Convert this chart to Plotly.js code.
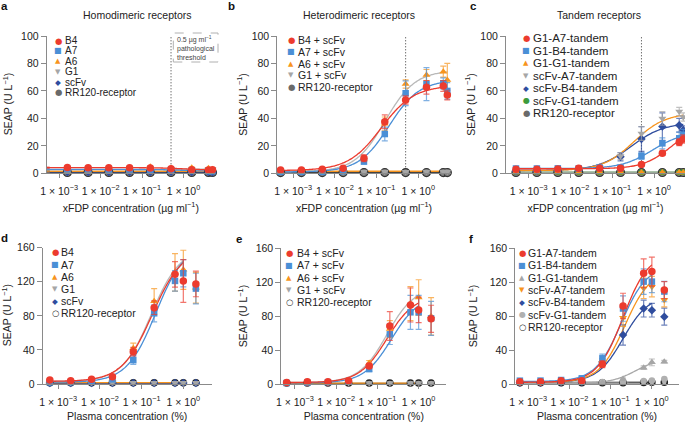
<!DOCTYPE html>
<html><head><meta charset="utf-8">
<script src="https://cdn.plot.ly/plotly-3.0.1.min.js"></script>
<style>html,body{margin:0;padding:0;background:#fff}#chart{width:685px;height:422px}</style>
</head><body><div id="chart"></div>
<script>
// ---------- shared x values ----------
const xfdpConc = [0.0005, 0.00158, 0.005, 0.0158, 0.05, 0.158, 0.5, 1.58, 4, 5];
const plasmaConc = [0.000632, 0.002, 0.00632, 0.02, 0.0632, 0.2, 0.632, 1, 2];
const thresholdConc = 0.5;
const xTickVals = [0.001, 0.01, 0.1, 1];
const xTickText = ['1 × 10<sup>−3</sup>', '1 × 10<sup>−2</sup>', '1 × 10<sup>−1</sup>', '1 × 10<sup>0</sup>'];
const yTicksTop = [0, 20, 40, 60, 80, 100];
const yTicksBottom = [0, 40, 80, 120, 160];

// ---------- panel a: homodimeric, xFDP ----------
const aNames = ['B4', 'A7', 'A6', 'G1', 'scFv', 'RR120-receptor'];
const aB4 = [4.2, 4.2, 4.1, 4.0, 4.0, 3.9, 3.4, 2.6, 2.4, 2.6];
const aA7 = [2.8, 2.8, 2.8, 2.7, 2.7, 2.6, 2.3, 1.8, 1.6, 1.5];
const aA6 = [1.5, 1.5, 1.5, 1.6, 1.8, 4.8, 3.8, 4.0, 3.7, 3.0];
const aG1 = [2.6, 2.6, 2.7, 2.7, 2.8, 3.0, 3.2, 3.0, 3.4, 3.2];
const aScFv = [1.0, 1.0, 1.0, 1.0, 1.0, 1.0, 1.1, 1.0, 1.0, 0.8];
const aRR120 = [0.6, 0.6, 0.6, 0.6, 0.6, 0.6, 0.6, 0.6, 0.6, 0.6];
const aErr = [0.4, 0.4, 0.4, 0.4, 0.4, 0.5, 0.5, 0.5, 0.5, 0.5];
const aFitB4 = [4.1, 2.4, 1.0, 1.5];
const aFitA7 = [2.8, 1.5, 1.0, 1.5];
const aFitA6 = [2.6, 3.2, 0.5, 1.0];
const aFitG1 = [1.5, 1.5, 1.0, 1.0];
const aFitScFv = [1.0, 1.0, 1.0, 1.0];
const aFitRR120 = [0.6, 0.6, 1.0, 1.0];

// ---------- panel b: heterodimeric, xFDP ----------
const bNames = ['B4 + scFv', 'A7 + scFv', 'A6 + scFv', 'G1 + scFv', 'RR120-receptor'];
const bB4 = [2.4, 2.4, 2.9, 3.6, 10.9, 37.6, 53.4, 62.6, 63.6, 57.0];
const bB4Err = [0.4, 0.4, 0.5, 1.0, 2.5, 5.0, 3.0, 5.0, 4.0, 3.5];
const bA7 = [1.0, 1.0, 1.0, 1.5, 8.5, 28.6, 58.3, 65.0, 65.5, 60.0];
const bA7Err = [0.3, 0.3, 0.3, 0.5, 1.5, 5.0, 9.0, 12.0, 4.0, 6.0];
const bA6 = [1.5, 1.5, 1.5, 2.0, 10.0, 36.0, 65.0, 71.6, 74.0, 68.0];
const bA6Err = [0.3, 0.3, 0.3, 0.5, 2.0, 5.0, 3.0, 4.0, 4.0, 12.0];
const bG1 = [1.2, 1.2, 1.2, 1.2, 1.3, 1.3, 1.2, 1.3, 1.4, 1.3];
const bRR120 = [0.5, 0.5, 0.5, 0.5, 0.5, 0.5, 0.5, 0.5, 0.5, 0.5];
const bSmallErr = [0.3, 0.3, 0.3, 0.3, 0.3, 0.3, 0.3, 0.3, 0.3, 0.3];
const bFitB4 = [2, 64, 0.13, 1.1];
const bFitA7 = [1, 68, 0.2, 1.2];
const bFitA6 = [1, 75, 0.16, 1.2];
const bFitG1 = [1.5, 1.5, 1, 1];
const bFitRR120 = [0.4, 0.4, 1, 1];

// ---------- panel c: tandem, xFDP ----------
const cNames = ['G1-A7-tandem', 'G1-B4-tandem', 'G1-G1-tandem', 'scFv-A7-tandem', 'scFv-B4-tandem', 'scFv-G1-tandem', 'RR120-receptor'];
const cG1A7 = [3.0, 3.0, 3.2, 3.6, 3.6, 3.6, 6.5, 14.6, 22.6, 25.0];
const cG1A7Err = [0.4, 0.4, 0.4, 0.5, 0.5, 0.8, 1.0, 1.5, 2.5, 3.0];
const cG1B4 = [3.5, 3.5, 3.6, 3.6, 4.2, 4.2, 12.6, 21.8, 25.5, 28.0];
const cG1B4Err = [0.4, 0.4, 0.4, 0.5, 0.5, 0.8, 2.5, 4.0, 4.5, 4.0];
const cG1G1 = [0.6, 0.6, 0.6, 0.6, 0.6, 0.6, 0.6, 0.6, 0.6, 0.6];
const cScFvA7 = [1.5, 1.5, 2.0, 2.5, 4.5, 12.6, 29.0, 40.0, 45.0, 41.0];
const cScFvA7Err = [0.3, 0.3, 0.4, 0.5, 1.0, 2.5, 5.0, 5.0, 3.0, 3.0];
const cScFvB4 = [1.5, 1.5, 2.0, 2.5, 4.0, 12.0, 25.0, 34.0, 35.0, 31.5];
const cScFvB4Err = [0.3, 0.3, 0.4, 0.5, 1.0, 3.0, 9.0, 10.0, 5.0, 3.0];
const cScFvG1 = [0.8, 0.8, 0.8, 0.8, 0.8, 0.8, 0.8, 0.8, 0.8, 0.8];
const cRR120 = [0.6, 0.6, 0.6, 0.6, 0.6, 0.6, 0.6, 0.6, 0.6, 0.6];
const cSmallErr = [0.2, 0.2, 0.2, 0.2, 0.2, 0.2, 0.2, 0.2, 0.2, 0.2];
const cFitG1A7 = [3.3, 35, 2.5, 1.3];
const cFitG1B4 = [3.5, 30, 0.9, 1.2];
const cFitG1G1 = [0.8, 0.8, 1, 1];
const cFitScFvA7 = [2, 44, 0.33, 1.16];
const cFitScFvB4 = [2, 37, 0.28, 1.1];
const cFitScFvG1 = [0.8, 0.8, 1, 1];
const cFitRR120 = [0.5, 0.5, 1, 1];

// ---------- panel d: homodimeric, plasma ----------
const dNames = ['B4', 'A7', 'A6', 'G1', 'scFv', 'RR120-receptor'];
const dB4 = [4.7, 3.9, 5.5, 8.6, 38.0, 89.6, 128.7, 120.9, 117.4];
const dB4Err = [1, 1, 1, 1.5, 5, 8, 15, 25, 15];
const dA7 = [2.0, 2.2, 3.0, 5.5, 28.0, 83.0, 121.0, 130.0, 112.0];
const dA7Err = [0.5, 0.5, 1, 2, 5, 10, 12, 16, 18];
const dA6 = [2.0, 2.5, 3.5, 6.0, 42.0, 97.0, 131.0, 134.0, 113.0];
const dA6Err = [0.5, 0.5, 1, 2, 6, 15, 22, 23, 18];
const dG1 = [1.5, 1.5, 1.5, 1.5, 1.5, 1.5, 1.5, 1.5, 1.5];
const dScFv = [1.2, 1.2, 1.2, 1.2, 1.2, 1.2, 1.2, 1.2, 1.2];
const dRR120 = [1.5, 1.5, 1.5, 1.5, 1.5, 1.5, 1.5, 1.5, 1.5];
const dSmallErr = [0.3, 0.3, 0.3, 0.3, 0.3, 0.3, 0.3, 0.3, 0.3];
const dFitB4 = [3, 160, 0.18, 1.2];
const dFitA7 = [2, 165, 0.22, 1.25];
const dFitA6 = [3, 160, 0.17, 1.25];
const dFitG1 = [1.5, 1.5, 1, 1];
const dFitScFv = [1.2, 1.2, 1, 1];
const dFitRR120 = [1.2, 1.2, 1, 1];

// ---------- panel e: heterodimeric, plasma ----------
const eNames = ['B4 + scFv', 'A7 + scFv', 'A6 + scFv', 'G1 + scFv', 'RR120-receptor'];
const eB4 = [2.0, 3.1, 3.1, 4.3, 21.6, 68.6, 93.3, 87.5, 77.0];
const eB4Err = [0.5, 0.5, 0.5, 1, 3, 17, 20, 15, 16];
const eA7 = [1.5, 2.0, 2.5, 3.0, 18.0, 58.8, 84.7, 84.7, 77.6];
const eA7Err = [0.5, 0.5, 0.5, 1, 3, 12, 20, 20, 20];
const eA6 = [1.5, 2.0, 2.5, 3.5, 25.0, 65.0, 95.0, 102.0, 80.0];
const eA6Err = [0.5, 0.5, 0.5, 1, 3, 10, 20, 21, 22];
const eG1 = [1.5, 1.5, 1.5, 1.5, 1.5, 1.5, 1.5, 1.5, 1.5];
const eRR120 = [1.5, 1.5, 1.5, 1.5, 1.5, 1.5, 1.5, 1.5, 1.5];
const eSmallErr = [0.3, 0.3, 0.3, 0.3, 0.3, 0.3, 0.3, 0.3, 0.3];
const eFitB4 = [2, 105, 0.17, 1.3];
const eFitA7 = [1.5, 105, 0.22, 1.3];
const eFitA6 = [2, 115, 0.17, 1.3];
const eFitG1 = [1.5, 1.5, 1, 1];
const eFitRR120 = [1.2, 1.2, 1, 1];

// ---------- panel f: tandem, plasma ----------
const fNames = ['G1-A7-tandem', 'G1-B4-tandem', 'G1-G1-tandem', 'scFv-A7-tandem', 'scFv-B4-tandem', 'scFv-G1-tandem', 'RR120-receptor'];
const fG1A7 = [2.8, 2.8, 3.9, 3.9, 23.2, 92.0, 130.5, 132.5, 110.8];
const fG1A7Err = [0.5, 0.5, 1, 1, 4, 15, 17, 17, 10];
const fG1B4 = [3.9, 4.0, 4.7, 6.7, 30.3, 89.0, 120.7, 120.7, 109.0];
const fG1B4Err = [0.5, 0.5, 1, 1, 5, 15, 15, 13, 12];
const fG1G1 = [1.0, 1.0, 1.0, 1.0, 1.5, 6.0, 19.3, 25.5, 26.3];
const fG1G1Err = [0.3, 0.3, 0.3, 0.3, 0.5, 1, 2, 4, 1.5];
const fScFvA7 = [1.5, 1.5, 2.0, 3.0, 25.0, 78.0, 112.8, 114.8, 99.0];
const fScFvA7Err = [0.5, 0.5, 0.5, 1, 4, 10, 12, 12, 8];
const fScFvB4 = [1.5, 1.5, 2.0, 2.5, 26.0, 57.8, 89.0, 87.0, 79.4];
const fScFvB4Err = [0.5, 0.5, 0.5, 1, 4, 12, 10, 8, 10];
const fScFvG1 = [2.5, 2.5, 2.5, 2.5, 2.5, 2.5, 3.5, 4.0, 5.9];
const fRR120 = [1.5, 1.5, 1.5, 1.5, 1.5, 1.5, 1.8, 2.0, 2.0];
const fSmallErr = [0.3, 0.3, 0.3, 0.3, 0.3, 0.3, 0.3, 0.3, 0.3];
const fFitG1A7 = [2, 155, 0.2, 1.4];
const fFitG1B4 = [3, 140, 0.18, 1.4];
const fFitG1G1 = [1, 30, 0.4, 1.5];
const fFitScFvA7 = [2, 135, 0.22, 1.4];
const fFitScFvB4 = [2, 105, 0.2, 1.4];
const fFitScFvG1 = [2.5, 5, 1.5, 1.5];
const fFitRR120 = [1.5, 1.5, 1, 1];

// ---------- styles ----------
const RED = '#ec3b2e', BLUE = '#4a8fd6', ORANGE = '#f7941d', GREY = '#a6a6a6', NAVY = '#2f4d9e', GREEN = '#3c9b3c', DARK = '#444';
const STY = {
  red: {symbol: 'circle', size: 7.5, color: RED, glyph: '●', gs: 8.5},
  blue: {symbol: 'square', size: 6.5, color: BLUE, glyph: '■', gs: 8},
  orange: {symbol: 'triangle-up', size: 7, color: ORANGE, glyph: '▲', gs: 7},
  grey: {symbol: 'triangle-down', size: 7, color: GREY, glyph: '▼', gs: 7},
  navy: {symbol: 'diamond', size: 6.5, color: NAVY, glyph: '◆', gs: 7.5},
  green: {symbol: 'circle', size: 6, color: GREEN, glyph: '●', gs: 8},
  greyUp: {symbol: 'triangle-up', size: 7, color: GREY, glyph: '▲', gs: 7},
  orangeDown: {symbol: 'triangle-down', size: 7, color: ORANGE, glyph: '▼', gs: 7},
  lightCircle: {symbol: 'circle', size: 6.5, color: '#b0b0b0', glyph: '●', gs: 8},
  ringTop: {symbol: 'circle', size: 8, color: '#808080', line: '#333', lw: 1.2, glyph: '●', gs: 8.5, glyphColor: '#6a6a6a'},
  ringBottom: {symbol: 'circle', size: 6, color: '#b5b5b5', line: '#222', lw: 1.6, glyph: '<b>○</b>', gs: 8.5, glyphColor: '#222'}
};
function rgba(hex, a) {
  const n = parseInt(hex.slice(1), 16);
  return 'rgba(' + (n >> 16) + ',' + ((n >> 8) & 255) + ',' + (n & 255) + ',' + a + ')';
}

const W = 685, H = 422;
const px = v => v / W, py = v => 1 - v / H;

const panels = [
  {letter: 'a', title: 'Homodimeric receptors', titleX: 137.5, letterPos: [4.5, 6], ytX: 7.5, xtStandoff: 8,
   xdom: [46.7, 215], ydom: [36, 173.3], xrange: [-3.30, 0.76], ymax: 100, yticks: yTicksTop,
   xvals: xfdpConc, curveMax: 5, xtitle: 'xFDP concentration (µg ml<sup>−1</sup>)', threshold: true,
   names: aNames, values: [aB4, aA7, aA6, aG1, aScFv, aRR120], errors: [aErr, aErr, aErr, aErr, aErr, aErr],
   fits: [aFitB4, aFitA7, aFitA6, aFitG1, aFitScFv, aFitRR120],
   styles: ['red', 'blue', 'orange', 'grey', 'navy', 'ringTop'],
   curveColors: [RED, BLUE, '#b8b8b8', ORANGE, NAVY, DARK],
   legend: {sx: 58.3, tx: 64, y0: 40.5, step: 10.4, size: 10}},
  {letter: 'b', title: 'Heterodimeric receptors', titleX: 359, letterPos: [231, 6], ytX: 242, xtStandoff: 8,
   xdom: [277.3, 450.7], ydom: [36, 173.3], xrange: [-3.38, 0.78], ymax: 100, yticks: yTicksTop,
   xvals: xfdpConc, curveMax: 5, xtitle: 'xFDP concentration (µg ml<sup>−1</sup>)', threshold: true,
   names: bNames, values: [bB4, bA7, bA6, bG1, bRR120], errors: [bB4Err, bA7Err, bA6Err, bSmallErr, bSmallErr],
   fits: [bFitB4, bFitA7, bFitA6, bFitG1, bFitRR120],
   styles: ['red', 'blue', 'orange', 'grey', 'ringTop'],
   curveColors: [RED, BLUE, '#b8b8b8', ORANGE, DARK],
   legend: {sx: 291.3, tx: 297, y0: 40, step: 11.8, size: 10.5}},
  {letter: 'c', title: 'Tandem receptors', titleX: 599, letterPos: [473.5, 6], ytX: 470, xtStandoff: 8,
   xdom: [506, 685], ydom: [36, 173.3], xrange: [-3.54, 0.74], ymax: 100, yticks: yTicksTop,
   xvals: xfdpConc, curveMax: 5, xtitle: 'xFDP concentration (µg ml<sup>−1</sup>)', threshold: true,
   names: cNames, values: [cG1A7, cG1B4, cG1G1, cScFvA7, cScFvB4, cScFvG1, cRR120],
   errors: [cG1A7Err, cG1B4Err, cSmallErr, cScFvA7Err, cScFvB4Err, cSmallErr, cSmallErr],
   fits: [cFitG1A7, cFitG1B4, cFitG1G1, cFitScFvA7, cFitScFvB4, cFitScFvG1, cFitRR120],
   styles: ['red', 'blue', 'orange', 'grey', 'navy', 'green', 'ringTop'],
   curveColors: [RED, BLUE, '#b8b8b8', ORANGE, NAVY, GREEN, DARK],
   legend: {sx: 526, tx: 532, y0: 38.3, step: 12.5, size: 11.5}},
  {letter: 'd', title: '', titleX: 0, letterPos: [4.5, 238], ytX: 6.5, xtStandoff: 6,
   xdom: [42.7, 211.7], ydom: [247.7, 384], xrange: [-3.37, 0.68], ymax: 160, yticks: yTicksBottom,
   xvals: plasmaConc, curveMax: 1, xtitle: 'Plasma concentration (%)', threshold: false,
   names: dNames, values: [dB4, dA7, dA6, dG1, dScFv, dRR120], errors: [dB4Err, dA7Err, dA6Err, dSmallErr, dSmallErr, dSmallErr],
   fits: [dFitB4, dFitA7, dFitA6, dFitG1, dFitScFv, dFitRR120],
   styles: ['red', 'blue', 'orange', 'grey', 'navy', 'ringBottom'],
   curveColors: [RED, BLUE, '#b8b8b8', ORANGE, NAVY, DARK],
   legend: {sx: 55, tx: 60, y0: 252.3, step: 12.2, size: 10.5}},
  {letter: 'e', title: '', titleX: 0, letterPos: [238.5, 239], ytX: 242, xtStandoff: 6,
   xdom: [281.3, 446.3], ydom: [248.3, 384.3], xrange: [-3.33, 0.67], ymax: 160, yticks: yTicksBottom,
   xvals: plasmaConc, curveMax: 1, xtitle: 'Plasma concentration (%)', threshold: false,
   names: eNames, values: [eB4, eA7, eA6, eG1, eRR120], errors: [eB4Err, eA7Err, eA6Err, eSmallErr, eSmallErr],
   fits: [eFitB4, eFitA7, eFitA6, eFitG1, eFitRR120],
   styles: ['red', 'blue', 'orange', 'grey', 'ringBottom'],
   curveColors: [RED, BLUE, '#b8b8b8', ORANGE, DARK],
   legend: {sx: 289, tx: 295.5, y0: 252.7, step: 12.4, size: 10.5}},
  {letter: 'f', title: '', titleX: 0, letterPos: [471, 238.5], ytX: 472, xtStandoff: 6,
   xdom: [515.3, 678.7], ydom: [248.3, 384], xrange: [-3.31, 0.65], ymax: 160, yticks: yTicksBottom,
   xvals: plasmaConc, curveMax: 1, xtitle: 'Plasma concentration (%)', threshold: false,
   names: fNames, values: [fG1A7, fG1B4, fG1G1, fScFvA7, fScFvB4, fScFvG1, fRR120],
   errors: [fG1A7Err, fG1B4Err, fG1G1Err, fScFvA7Err, fScFvB4Err, fSmallErr, fSmallErr],
   fits: [fFitG1A7, fFitG1B4, fFitG1G1, fFitScFvA7, fFitScFvB4, fFitScFvG1, fFitRR120],
   styles: ['red', 'blue', 'greyUp', 'orangeDown', 'navy', 'lightCircle', 'ringBottom'],
   curveColors: [RED, BLUE, '#a8a8a8', ORANGE, NAVY, '#b5b5b5', DARK],
   legend: {sx: 522, tx: 527, y0: 252.7, step: 12.4, size: 10.5}}
];

function logistic(fit, x) {
  const [bottom, top, ec50, hill] = fit;
  return bottom + (top - bottom) / (1 + Math.pow(ec50 / x, hill));
}

const FONT = 'Liberation Sans, Arial, Helvetica, sans-serif';
const AXC = '#8a8a8a';
const traces = [];
const layout = {
  width: W, height: H, margin: {l: 0, r: 0, t: 0, b: 0},
  paper_bgcolor: '#fff', plot_bgcolor: 'rgba(0,0,0,0)',
  font: {family: FONT, size: 10, color: '#222'},
  showlegend: false, hovermode: false,
  annotations: [], shapes: []
};

panels.forEach((p, i) => {
  const sfx = i ? String(i + 1) : '';
  const xa = 'x' + sfx, ya = 'y' + sfx;
  layout['xaxis' + sfx] = {
    type: 'log', domain: [px(p.xdom[0]), px(p.xdom[1])], range: p.xrange, anchor: ya,
    showline: true, linecolor: AXC, linewidth: 1, ticks: 'outside', ticklen: 4, tickcolor: AXC,
    ticklabelstandoff: 4,
    tickvals: xTickVals, ticktext: xTickText, tickfont: {size: 10.5, color: '#222'},
    showgrid: false, zeroline: false, automargin: false, fixedrange: true,
    title: {text: p.xtitle, font: {size: 10.5, color: '#222'}, standoff: p.xtStandoff}
  };
  layout['yaxis' + sfx] = {
    domain: [py(p.ydom[1]), py(p.ydom[0])], range: [0, p.ymax], anchor: xa,
    showline: true, linecolor: AXC, linewidth: 1, ticks: 'outside', ticklen: 5, tickcolor: AXC,
    tickvals: p.yticks, tickfont: {size: 10.5, color: '#222'},
    showgrid: false, zeroline: false, automargin: false, fixedrange: true
  };
  // y-axis title, placed beside the axis
  layout.annotations.push({xref: 'paper', yref: 'paper', x: px(p.ytX), y: py((p.ydom[0] + p.ydom[1]) / 2),
    text: 'SEAP (U L<sup>−1</sup>)', textangle: -90, showarrow: false, xanchor: 'center', yanchor: 'middle',
    font: {size: 10.5, color: '#222'}});

  if (p.threshold) {
    traces.push({type: 'scatter', mode: 'lines', xaxis: xa, yaxis: ya,
      x: [thresholdConc, thresholdConc], y: [0, p.ymax],
      line: {color: '#333', width: 1, dash: '1px,2px'}, hoverinfo: 'skip'});
  }

  const n = p.names.length;
  const order = [];
  for (let k = n - 1; k >= 0; k--) order.push(k);

  // fitted curves
  const lo = Math.log10(p.xvals[0]), hi = Math.log10(p.curveMax);
  order.forEach(k => {
    const cx = [], cy = [];
    for (let s = 0; s <= 120; s++) {
      const xv = Math.pow(10, lo + (hi - lo) * s / 120);
      cx.push(xv); cy.push(logistic(p.fits[k], xv));
    }
    traces.push({type: 'scatter', mode: 'lines', xaxis: xa, yaxis: ya, x: cx, y: cy,
      line: {color: p.curveColors[k], width: 1.3, shape: 'spline'}, hoverinfo: 'skip'});
  });

  // data points with error bars
  order.forEach(k => {
    const st = STY[p.styles[k]];
    traces.push({type: 'scatter', mode: 'markers', xaxis: xa, yaxis: ya, name: p.names[k],
      x: p.xvals, y: p.values[k], cliponaxis: false,
      error_y: {type: 'data', array: p.errors[k], visible: true, color: rgba(st.line ? '#777777' : st.color, 0.7), thickness: 1.2, width: 3},
      marker: {symbol: st.symbol, size: st.size, color: st.color,
        line: {color: st.line || st.color, width: st.lw || 0}}});
  });

  // panel letter & title
  layout.annotations.push({xref: 'paper', yref: 'paper', x: px(p.letterPos[0]), y: py(p.letterPos[1]),
    text: '<b>' + p.letter + '</b>', showarrow: false, xanchor: 'center', yanchor: 'middle',
    font: {size: 11.5, color: '#111'}});
  if (p.title) {
    layout.annotations.push({xref: 'paper', yref: 'paper', x: px(p.titleX), y: py(15),
      text: p.title, showarrow: false, xanchor: 'center', yanchor: 'middle', font: {size: 10.5, color: '#222'}});
  }

  // legend (drawn as text annotations)
  const L = p.legend;
  p.names.forEach((nm, k) => {
    const st = STY[p.styles[k]];
    const yy = L.y0 + k * L.step;
    layout.annotations.push({xref: 'paper', yref: 'paper', x: px(L.sx), y: py(yy), text: st.glyph, showarrow: false, borderpad: 0,
      xanchor: 'center', yanchor: 'middle', font: {family: 'DejaVu Sans', size: st.gs, color: st.glyphColor || st.color}});
    layout.annotations.push({xref: 'paper', yref: 'paper', x: px(L.tx), y: py(yy), text: nm, showarrow: false, borderpad: 0,
      xanchor: 'left', yanchor: 'middle', font: {size: L.size, color: '#222'}});
  });
});

// pathological threshold note in panel a
layout.shapes.push({type: 'rect', xref: 'paper', yref: 'paper', x0: px(173.3), x1: px(218), y0: py(62), y1: py(33),
  line: {color: '#b0b0b0', width: 1, dash: 'dash'}});
layout.annotations.push({xref: 'paper', yref: 'paper', x: px(175), y: py(47.5), xanchor: 'left', yanchor: 'middle', align: 'left',
  showarrow: false, text: '0.5 µg ml<sup>−1</sup><br>pathological<br>threshold', font: {size: 7, color: '#444'}});

Plotly.newPlot('chart', traces, layout, {staticPlot: true, displayModeBar: false});
</script>
</body></html>
